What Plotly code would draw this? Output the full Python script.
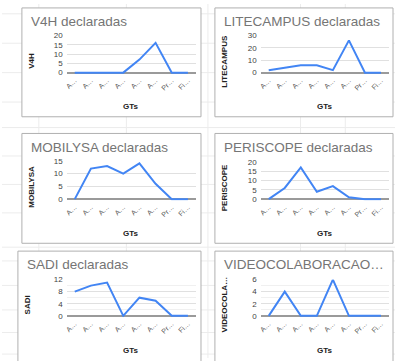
import plotly.graph_objects as go

W, H = 395, 361

# ---------------- data ----------------
categories = ["A…", "A…", "A…", "A…", "A…", "A…", "Pr…", "Fi…"]
v4h = [0, 0, 0, 0, 7, 16, 0, 0]
litecampus = [2, 4, 6, 6, 2, 26, 0, 0]
mobilysa = [0, 12, 13, 10, 14, 6, 0, 0]
periscope = [0, 6, 17, 4, 7, 1, 0, 0]
sadi = [8, 10, 11, 0, 6, 5, 0, 0]
videocolab = [0, 4, 0, 0, 6, 0, 0, 0]

titles = ["V4H declaradas", "LITECAMPUS declaradas", "MOBILYSA declaradas",
          "PERISCOPE declaradas", "SADI declaradas", "VIDEOCOLABORACAO…"]
ytitles = ["V4H", "LITECAMPUS", "MOBILYSA", "PERISCOPE", "SADI", "VIDEOCOLA…"]
series = [v4h, litecampus, mobilysa, periscope, sadi, videocolab]
ymax = [20, 30, 15, 20, 12, 6]
ydtick = [5, 10, 5, 5, 4, 2]
yminor = [None, None, None, None, 2, 1]
xtitle = "GTs"

# ---------------- layout geometry (pixels) ----------------
card_x = [(20, 200), (214, 393), (20, 200), (214, 393), (16, 200), (214, 393)]
card_y = [(4, 115), (4, 115), (132, 244), (132, 244), (252, 372), (252, 372)]
plot_x = [(65, 195), (260, 389), (65, 195), (260, 389), (65, 195), (260, 389)]
plot_y = [(32, 70), (32, 70), (160, 199), (161, 199), (281, 318), (281, 318)]

FONT = "Liberation Sans, Arial, sans-serif"


def px(x):
    return x / W


def py(y):
    return 1 - y / H


fig = go.Figure()
shapes = []
annotations = []

# faint spreadsheet grid in background
for gx in [37, 125, 207, 300, 345]:
    shapes.append(dict(type="line", xref="paper", yref="paper", x0=px(gx), x1=px(gx),
                       y0=0, y1=1, line=dict(color="#ececec", width=1), layer="below"))
for gy in [10, 40, 70, 100, 126, 155, 184, 213, 248, 262, 287, 312, 335, 357]:
    shapes.append(dict(type="line", xref="paper", yref="paper", x0=0, x1=1,
                       y0=py(gy), y1=py(gy), line=dict(color="#ececec", width=1), layer="below"))

for i in range(6):
    n = i + 1
    xa = "xaxis" if n == 1 else f"xaxis{n}"
    ya = "yaxis" if n == 1 else f"yaxis{n}"
    xr = "x" if n == 1 else f"x{n}"
    yr = "y" if n == 1 else f"y{n}"

    # card
    cx0, cx1 = card_x[i]
    cy0, cy1 = card_y[i]
    shapes.append(dict(type="rect", xref="paper", yref="paper",
                       x0=px(cx0), x1=px(cx1), y0=py(cy1), y1=py(cy0),
                       fillcolor="white", line=dict(color="#b0b0b0", width=1), layer="below"))

    pxa, pxb = plot_x[i]
    pya, pyb = plot_y[i]
    ext = 1.5  # px below zero so baseline isn't clipped
    hpx = pyb - pya
    ylo = -ymax[i] * ext / hpx

    fig.add_trace(go.Scatter(x=list(range(len(categories))), y=series[i], mode="lines",
                             line=dict(color="#4285f4", width=2), xaxis=xr, yaxis=yr,
                             showlegend=False, hoverinfo="skip"))

    fig.layout[xa] = dict(domain=[px(pxa), px(pxb)], anchor=yr, range=[-0.5, 7.5],
                          tickvals=list(range(len(categories))), ticktext=categories,
                          tickangle=-45, tickfont=dict(size=7, color="#555", family=FONT),
                          showgrid=False, zeroline=False, showline=False, ticks="",
                          fixedrange=True)
    yd = dict(domain=[py(pyb + ext), py(pya)], anchor=xr, range=[ylo, ymax[i]],
              tick0=0, dtick=ydtick[i], tickfont=dict(size=8, color="#444", family=FONT),
              showgrid=True, gridcolor="#e0e0e0", gridwidth=1,
              zeroline=True, zerolinecolor="#9a9a9a", zerolinewidth=1.6,
              showline=False, ticks="", fixedrange=True, ticklabelstandoff=3)
    if yminor[i]:
        yd["minor"] = dict(dtick=yminor[i], tick0=0, showgrid=True, gridcolor="#f0f0f0")
    fig.layout[ya] = yd

    # chart title
    annotations.append(dict(text=titles[i], xref="paper", yref="paper",
                            x=px(cx0 + 7), y=py(cy0 + 14), xanchor="left", yanchor="middle",
                            showarrow=False, font=dict(size=13.5, color="#757575", family=FONT)))
    # y axis title
    annotations.append(dict(text=f"<b>{ytitles[i]}</b>", xref="paper", yref="paper",
                            x=px(cx0 + 10), y=py((pya + pyb) / 2 + 7), textangle=-90,
                            xanchor="center", yanchor="middle", showarrow=False,
                            font=dict(size=8, color="#222", family=FONT)))
    # x axis title
    annotations.append(dict(text=f"<b>{xtitle}</b>", xref="paper", yref="paper",
                            x=px((pxa + pxb) / 2), y=py(pyb + 35), xanchor="center",
                            yanchor="middle", showarrow=False,
                            font=dict(size=8, color="#222", family=FONT)))

fig.update_layout(width=W, height=H, margin=dict(l=0, r=0, t=0, b=0),
                  paper_bgcolor="white", plot_bgcolor="white",
                  shapes=shapes, annotations=annotations, showlegend=False,
                  font=dict(family=FONT))

fig.write_html("out.html", config={"displayModeBar": False},
               post_script="document.body.style.margin='0';document.body.style.padding='0';document.body.style.overflow='hidden';")
